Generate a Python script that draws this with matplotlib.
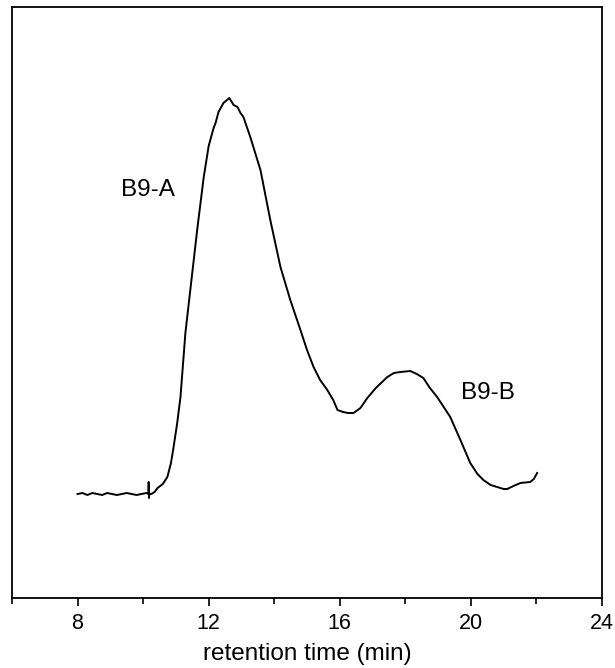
import numpy as np
import matplotlib
matplotlib.use("Agg")
import matplotlib.pyplot as plt

plt.rcParams["font.family"] = ["Liberation Sans", "DejaVu Sans"]

# Chromatogram trace (signal in arbitrary units)
TIME = [8.00, 8.15, 8.30, 8.45, 8.60, 8.75, 8.90, 9.05, 9.20, 9.35, 9.50,
        9.65, 9.80, 9.95, 10.10, 10.16, 10.17, 10.18, 10.19, 10.25, 10.35,
        10.44, 10.60, 10.74, 10.85, 10.93, 11.04, 11.14, 11.29, 11.45,
        11.66, 11.85, 12.00, 12.15, 12.21, 12.30, 12.45, 12.63, 12.76,
        12.88, 12.97, 13.06, 13.27, 13.58, 13.88, 14.19, 14.49, 14.80,
        15.00, 15.20, 15.40, 15.62, 15.80, 15.93, 16.10, 16.25, 16.42,
        16.63, 16.84, 17.10, 17.45, 17.65, 17.85, 18.15, 18.35, 18.55,
        18.75, 18.97, 19.17, 19.37, 19.68, 19.98, 20.20, 20.38, 20.60,
        20.80, 21.00, 21.11, 21.30, 21.51, 21.81, 21.92, 22.02]
SIGNAL = [104, 105, 103, 105, 104, 103, 105, 104, 103, 104, 105,
          104, 103, 104, 105, 104, 116, 100, 104, 104, 106,
          110, 114, 121, 135, 151, 175, 201, 265, 311,
          371, 421, 452, 470, 475, 486, 495, 500, 493,
          491, 485, 481, 461, 428, 378, 331, 298, 268,
          248, 231, 218, 208, 198, 188, 186, 185, 185,
          190, 200, 210, 221, 225, 226, 227, 224, 220,
          210, 201, 191, 181, 158, 135, 124, 118, 113,
          111, 109, 109, 112, 115, 116, 119, 125]

LABELS = ["B9-A", "B9-B"]
LABEL_X = [10.16, 20.53]
LABEL_Y = [408, 205]

XTICKS = [8, 12, 16, 20, 24]
XMINOR = [6, 10, 14, 18, 22]


fig = plt.figure(figsize=(6.15, 6.68), dpi=100)
ax = fig.add_axes([0.0195, 0.1048, 0.9594, 0.8847])

ax.plot(TIME, SIGNAL, color="black", linewidth=1.4)
for lab, lx, ly in zip(LABELS, LABEL_X, LABEL_Y):
  ax.text(lx, ly, lab, ha="center", va="center", fontsize=17.5)

ax.set_xlim(6, 24)
ax.set_ylim(0, 591)
ax.set_xticks(XTICKS)
ax.set_xticks(XMINOR, minor=True)
ax.set_yticks([])
ax.tick_params(axis="x", which="major", direction="out", length=6, width=1.2,
               labelsize=15.5, pad=5)
ax.tick_params(axis="x", which="minor", direction="out", length=4, width=1.2)
for s in ax.spines.values():
  s.set_linewidth(1.3)
ax.set_xlabel("retention time (min)", fontsize=17.5, labelpad=6)

fig.savefig("out.png", dpi=100)
